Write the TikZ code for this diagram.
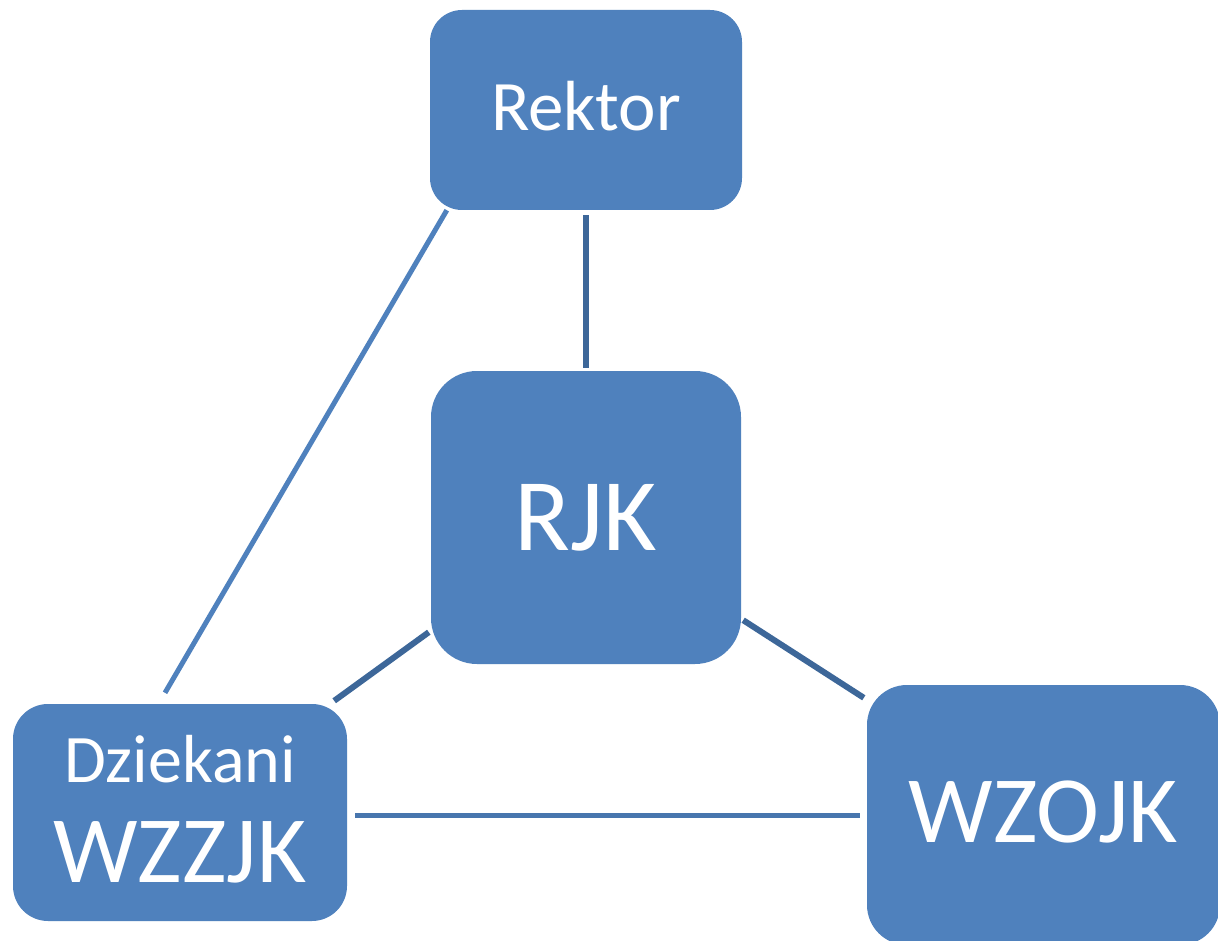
\documentclass[tikz,border=0pt]{standalone}
\usepackage{fontspec}
\setmainfont{Carlito}
\definecolor{boxblue}{HTML}{4F81BD}
\definecolor{darkline}{HTML}{3D6799}
\definecolor{midline}{HTML}{4876AE}
\begin{document}
\begin{tikzpicture}[x=1pt,y=-1pt,
  box/.style={fill=boxblue,draw=none,text=white,inner sep=0pt,align=center},
  thin link/.style={draw=boxblue,line width=5pt},
  dark link/.style={draw=darkline,line width=6pt}]
\clip (0,0) rectangle (1218,941);
\fill[white] (0,0) rectangle (1218,941);
\node[box,rounded corners=32pt,minimum width=312pt,minimum height=200pt] (rektor) at (586,110) {};
\node[text=white,font=\fontsize{71}{71}\selectfont,inner sep=0pt] (rektorlbl) at (586,106) {Rektor};
\node[box,rounded corners=46pt,minimum width=310pt,minimum height=293pt,
  font=\fontsize{103}{103}\selectfont] (rjk) at (586,517.5) {RJK};
\node[box,rounded corners=35pt,minimum width=334pt,minimum height=217pt] (dz) at (180,812.5) {};
\node[text=white,align=center,inner sep=0pt,font=\fontsize{68}{100}\selectfont] (dzlbl) at (180,809) {Dziekani\\[0pt]\fontsize{95}{95}\selectfont WZZJK};
\node[box,rounded corners=40pt,minimum width=353pt,minimum height=260pt] (wz) at (1043.5,815) {};
\node[text=white,inner sep=0pt,font=\fontsize{95}{95}\selectfont] (wzlbl) at (1043.5,812) {WZOJK};
\draw[dark link] ([yshift=-5pt]rektor.south) -- ([yshift=3pt]rjk.north);
\draw[thin link] ([xshift=17pt]rektor.south west) -- ([shift={(-15pt,11pt)}]dz.north);
\draw[dark link] ([shift={(-2pt,32pt)}]rjk.south west) -- ([shift={(-13pt,3pt)}]dz.north east);
\draw[dark link] ([shift={(2pt,44pt)}]rjk.south east) -- ([shift={(-3pt,-13pt)}]wz.north west);
\draw[draw=midline,line width=5pt] ([shift={(8pt,-2.5pt)}]dz.east) -- ([xshift=-7pt]wz.west);
\end{tikzpicture}
\end{document}
